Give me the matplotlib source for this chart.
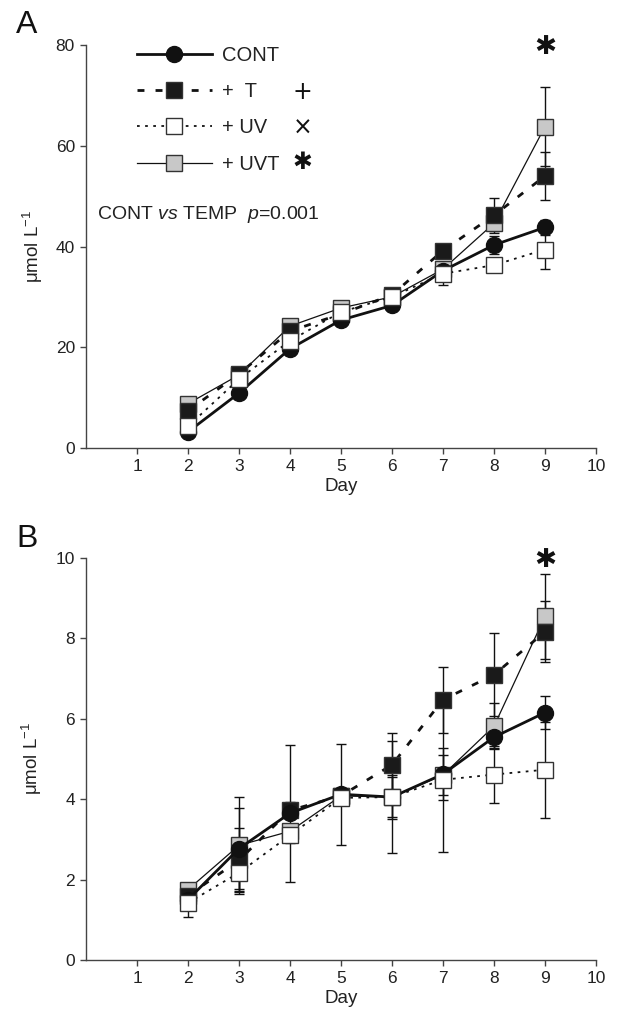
import matplotlib
matplotlib.use("Agg")
import matplotlib.pyplot as plt

plt.rcParams['font.family'] = ['Liberation Sans', 'DejaVu Sans']
plt.rcParams['mathtext.fontset'] = 'custom'
plt.rcParams['mathtext.rm'] = 'Liberation Sans'
plt.rcParams['mathtext.it'] = 'Liberation Sans:italic'

# ------------------------- data -------------------------
days = [2, 3, 4, 5, 6, 7, 8, 9]

# panel A
cont_a = [3.2, 10.9, 19.7, 25.4, 28.3, 35.2, 40.3, 43.8]
t_a = [7.4, 14.7, 23.2, 26.6, 30.4, 39.2, 46.2, 54.0]
uv_a = [4.3, 13.7, 21.3, 27.0, 30.0, 34.6, 36.3, 39.4]
uvt_a = [8.8, 14.5, 24.2, 27.8, 30.0, 35.5, 44.6, 63.8]
cont_a_se = [1.0, 0.6, 1.2, 0.6, 1.0, 0.8, 1.8, 1.5]
t_a_se = [0.8, 0.6, 0.8, 0.6, 0.5, 1.0, 3.5, 4.8]
uv_a_se = [0.8, 0.6, 0.8, 0.6, 0.5, 2.3, 1.2, 3.8]
uvt_a_se = [0.5, 0.5, 0.5, 0.5, 0.5, 1.0, 1.5, 7.9]

# panel B
cont_b = [1.5, 2.77, 3.65, 4.12, 4.05, 4.62, 5.54, 6.15]
t_b = [1.6, 2.48, 3.72, 4.08, 4.85, 6.47, 7.09, 8.16]
uv_b = [1.42, 2.17, 3.1, 4.03, 4.05, 4.48, 4.61, 4.73]
uvt_b = [1.75, 2.85, 3.2, 4.08, 4.05, 4.6, 5.81, 8.54]
cont_b_se = [0.1, 1.0, 1.7, 1.25, 1.4, 0.65, 0.26, 0.41]
t_b_se = [0.1, 0.8, 0.2, 0.15, 0.8, 0.82, 1.03, 0.76]
uv_b_se = [0.35, 0.45, 0.2, 0.15, 0.5, 1.8, 0.7, 1.19]
uvt_b_se = [0.1, 1.2, 0.15, 0.15, 0.55, 0.5, 0.57, 1.05]

labels = ['CONT', '+  T', '+ UV', '+ UVT']
sig_symbols = ['+', '\u00d7', '\u2731']

# ------------------------- styles -------------------------
styles = {
    'CONT': dict(color='#111111', lw=2.0, ls='-', marker='o', mfc='#111111', mec='#111111', ms=11.5, zorder=4),
    '+  T': dict(color='#111111', lw=2.0, dashes=(2.5, 4), marker='s', mfc='#1a1a1a', mec='#333333', ms=11.5, zorder=3),
    '+ UV': dict(color='#111111', lw=1.3, dashes=(1.5, 3), marker='s', mfc='white', mec='#333333', ms=11.5, zorder=5),
    '+ UVT': dict(color='#111111', lw=0.9, ls='-', marker='s', mfc='#c8c8c8', mec='#333333', ms=11.5, zorder=2),
}

W, H = 619, 1017
fig = plt.figure(figsize=(W / 100, H / 100), dpi=100)
axA = fig.add_axes([86 / W, 1 - 448 / H, 510 / W, 403 / H])
axB = fig.add_axes([86 / W, 1 - 960 / H, 510 / W, 402.3 / H])


def draw_panel(ax, series, errs, ymax, ystep):
    handles = []
    for lab, y, e in zip(labels, series, errs):
        st = styles[lab]
        ax.errorbar(days, y, yerr=e, fmt='none', ecolor='#111111', elinewidth=1.0,
                    capsize=3.5, capthick=1.0, zorder=1)
        h, = ax.plot(days, y, label=lab, mew=1.0, **st)
        handles.append(h)
    ax.set_xlim(0, 10)
    ax.set_ylim(0, ymax)
    ax.set_xticks(range(1, 11))
    ax.set_yticks([v * ystep for v in range(int(ymax / ystep) + 1)])
    for s in ['top', 'right']:
        ax.spines[s].set_visible(False)
    for s in ['left', 'bottom']:
        ax.spines[s].set_color('#444444')
        ax.spines[s].set_linewidth(1.0)
    ax.tick_params(direction='out', length=4, width=1.0, color='#444444',
                   labelsize=12.5, pad=4, labelcolor='#222222')
    ax.set_xlabel('Day', fontsize=13.5, labelpad=3, color='#222222')
    ax.set_ylabel('\u03bcmol L$^{\\mathregular{-1}}$', fontsize=13.5, labelpad=8, color='#222222')
    ax.text(9, ymax * 0.995, '\u2731', ha='center', va='center', fontsize=19,
            family=['DejaVu Sans'], clip_on=False, color='#111111')
    return handles


hA = draw_panel(axA, [cont_a, t_a, uv_a, uvt_a],
                [cont_a_se, t_a_se, uv_a_se, uvt_a_se], 80, 20)
draw_panel(axB, [cont_b, t_b, uv_b, uvt_b],
           [cont_b_se, t_b_se, uv_b_se, uvt_b_se], 10, 2)

leg = axA.legend(handles=hA, loc='upper left', bbox_to_anchor=(0.1, 0.997),
                 frameon=False, fontsize=14.5, handlelength=3.7, handletextpad=0.5,
                 labelspacing=0.85, borderpad=0, borderaxespad=0, numpoints=1)
for t in leg.get_texts():
    t.set_color('#222222')

# significance symbols next to the legend entries
for sym, yy in zip(sig_symbols, [0.883, 0.794, 0.710]):
    axA.text(0.425, yy, sym, transform=axA.transAxes, ha='center', va='center',
             fontsize=17, family=['DejaVu Sans'], color='#111111')

axA.text(0.21, 46.3, 'CONT $\\mathit{vs}$ TEMP  $\\mathit{p}$=0.001', fontsize=14,
         ha='left', va='center', color='#222222')

fig.text(27 / W, 1 - 25 / H, 'A', fontsize=23, ha='center', va='center', color='#111111')
fig.text(27 / W, 1 - 539 / H, 'B', fontsize=23, ha='center', va='center', color='#111111')

fig.savefig('out.png', dpi=100)
